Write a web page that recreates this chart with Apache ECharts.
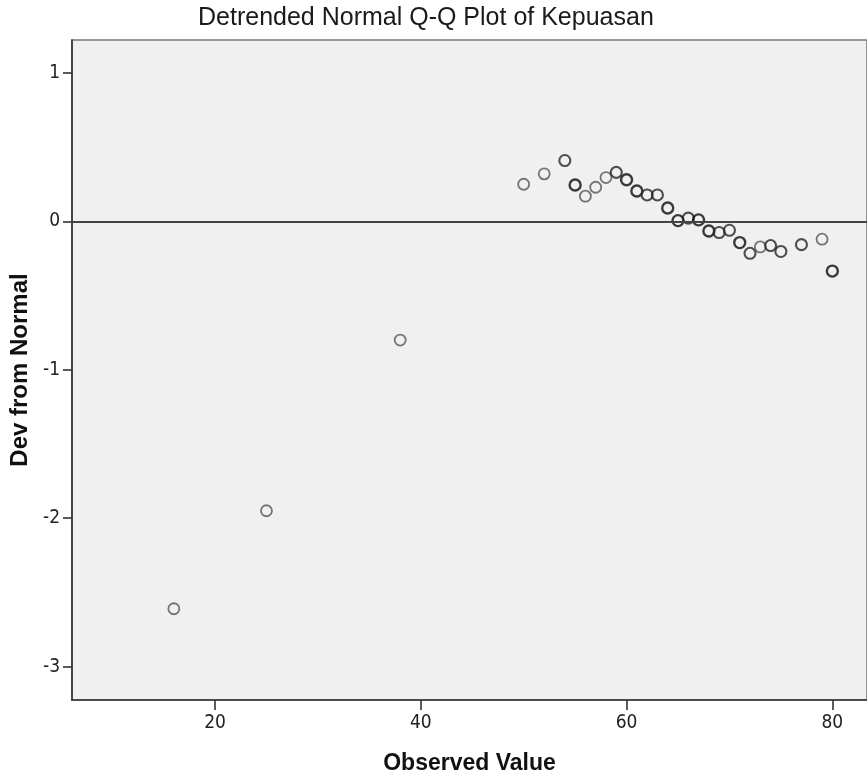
<!DOCTYPE html>
<html>
<head>
<meta charset="utf-8">
<title>Detrended Normal Q-Q Plot of Kepuasan</title>
<script src="https://cdn.jsdelivr.net/npm/echarts@6/dist/echarts.min.js"></script>
<style>
  html, body { margin: 0; padding: 0; background: #fff; }
  #chart { width: 867px; height: 780px; }
</style>
</head>
<body>
<div id="chart"></div>
<script>
// observed values (x) and their deviation from normal (y)
const observed = [16, 25, 38, 50, 52, 54, 55, 56, 57, 58, 59, 60, 61, 62, 63,
                  64, 65, 66, 67, 68, 69, 70, 71, 72, 73, 74, 75, 77, 79, 80];
const devFromNormal = [-2.61, -1.95, -0.80, 0.25, 0.32, 0.41, 0.245, 0.17, 0.23, 0.295, 0.33, 0.28, 0.205, 0.178, 0.178,
                       0.09, 0.005, 0.022, 0.01, -0.065, -0.075, -0.06, -0.143, -0.215, -0.172, -0.163, -0.203, -0.157, -0.12, -0.335];
// rough number of cases stacked on each point (darker rings in the original)
const caseCount = [1, 1, 1, 1, 1, 2, 3, 1, 1, 1, 2, 3, 3, 2, 2,
                   3, 3, 2, 3, 3, 2, 2, 3, 2, 1, 2, 2, 2, 1, 3];
const xTicks = [20, 40, 60, 80];
const yTicks = [-3, -2, -1, 0, 1];

const points = observed.map((v, i) => ({
  value: [v, devFromNormal[i]],
  itemStyle: {
    borderColor: caseCount[i] >= 3 ? '#0d0d0d' : caseCount[i] === 2 ? '#262626' : '#555',
    borderWidth: caseCount[i] >= 3 ? 2.4 : caseCount[i] === 2 ? 2.1 : 1.8
  }
}));

const tickFont = "'Liberation Sans Narrow', 'DejaVu Sans Condensed', 'Liberation Sans', sans-serif";
const chart = echarts.init(document.getElementById('chart'));
chart.setOption({
  animation: false,
  backgroundColor: '#fff',
  title: {
    text: 'Detrended Normal Q-Q Plot of Kepuasan',
    left: 198,
    top: 6,
    padding: 0,
    textStyle: {
      fontFamily: "'Liberation Sans', Arial, sans-serif",
      fontSize: 25,
      fontWeight: 'normal',
      color: '#1a1a1a'
    }
  },
  grid: {
    left: 72, right: 0, top: 40, bottom: 73,
    show: true,
    backgroundColor: '#f0f0f0',
    borderColor: '#777',
    borderWidth: 1.5
  },
  xAxis: {
    type: 'value',
    min: 6.1,
    max: 83.37,
    name: 'Observed Value',
    nameLocation: 'middle',
    nameGap: 52,
    nameTextStyle: {
      fontFamily: "'Liberation Sans', Arial, sans-serif",
      fontSize: 23, fontWeight: 'bold', color: '#111'
    },
    splitLine: { show: false },
    axisLine: { show: true, onZero: false, lineStyle: { color: '#333', width: 1.6 } },
    axisTick: { show: true, length: 10, customValues: xTicks, lineStyle: { color: '#333', width: 1.6 } },
    axisLabel: {
      customValues: xTicks, margin: 14,
      fontFamily: tickFont, fontSize: 19, color: '#222'
    }
  },
  yAxis: {
    type: 'value',
    min: -3.225,
    max: 1.222,
    name: 'Dev from Normal',
    nameLocation: 'middle',
    nameGap: 37,
    nameTextStyle: {
      fontFamily: "'Liberation Sans', Arial, sans-serif",
      fontSize: 24, fontWeight: 'bold', color: '#111'
    },
    splitLine: { show: false },
    axisLine: { show: true, onZero: false, lineStyle: { color: '#333', width: 1.6 } },
    axisTick: { show: true, length: 9, customValues: yTicks, lineStyle: { color: '#333', width: 1.6 } },
    axisLabel: {
      customValues: yTicks, margin: 12,
      fontFamily: tickFont, fontSize: 19, color: '#222'
    }
  },
  series: [{
    type: 'scatter',
    symbol: 'circle',
    symbolSize: 11,
    itemStyle: { color: 'rgba(0,0,0,0)' },
    data: points,
    markLine: {
      silent: true,
      symbol: ['none', 'none'],
      label: { show: false },
      lineStyle: { color: '#444', width: 2, type: 'solid' },
      data: [{ yAxis: 0 }]
    }
  }]
});
</script>
</body>
</html>
